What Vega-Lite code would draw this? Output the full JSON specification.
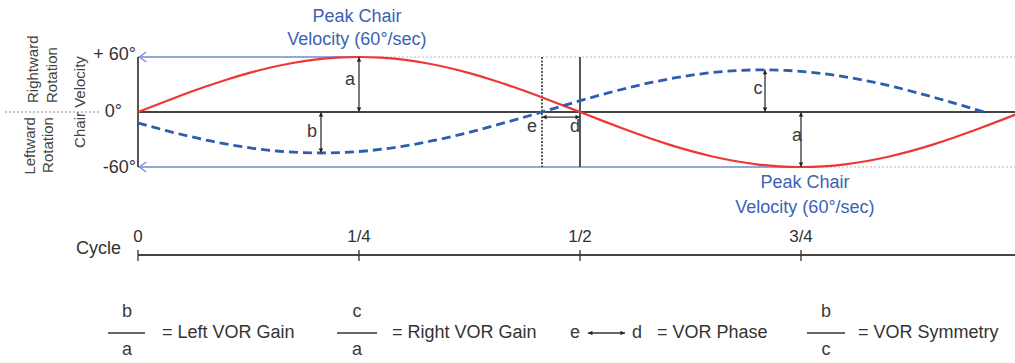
{
  "$schema": "https://vega.github.io/schema/vega-lite/v6.json",
  "width": 1015,
  "height": 363,
  "autosize": "none",
  "padding": 0,
  "config": {"view": {"stroke": null}, "font": "Liberation Sans"},
  "encoding": {
    "x": {"field": "x", "type": "quantitative", "scale": {"domain": [-0.1561, 0.9921], "nice": false, "zero": false}, "axis": null},
    "y": {"field": "y", "type": "quantitative", "scale": {"domain": [-273.8, 122.2], "nice": false, "zero": false}, "axis": null}
  },
  "layer": [
    {
      "data": {"values": [
        {"x": 0, "x2": 0.9921, "y": 60, "y2": 60},
        {"x": 0, "x2": 0.9921, "y": -60, "y2": -60}
      ]},
      "mark": {"type": "rule", "color": "#b8b8b8", "strokeWidth": 1.2, "strokeDash": [2, 2]},
      "encoding": {"x2": {"field": "x2"}, "y2": {"field": "y2"}}
    },
    {
      "data": {"values": [
        {"x": -0.1505, "x2": -0.043, "y": 0, "y2": 0}
      ]},
      "mark": {"type": "rule", "color": "#888888", "strokeWidth": 1.2, "strokeDash": [2, 2]},
      "encoding": {"x2": {"field": "x2"}, "y2": {"field": "y2"}}
    },
    {
      "data": {"values": [
        {"x": 0, "x2": 0.25, "y": 60, "y2": 60},
        {"x": 0, "x2": 0.75, "y": -60, "y2": -60}
      ]},
      "mark": {"type": "rule", "color": "#7393d2", "strokeWidth": 1.6},
      "encoding": {"x2": {"field": "x2"}, "y2": {"field": "y2"}}
    },
    {
      "data": {"values": [
        {"x": 0.0055, "y": 60},
        {"x": 0.0055, "y": -60}
      ]},
      "mark": {"type": "point", "shape": "M 0.7 -1 L -0.7 0 L 0.7 1", "filled": false, "stroke": "#7393d2", "strokeWidth": 1.4, "size": 100, "opacity": 1}
    },
    {
      "data": {"values": [
        {"x": 0.457, "x2": 0.457, "y": 60, "y2": -60}
      ]},
      "mark": {"type": "rule", "color": "#333333", "strokeWidth": 1.6, "strokeDash": [2, 1.5]},
      "encoding": {"x2": {"field": "x2"}, "y2": {"field": "y2"}}
    },
    {
      "data": {"values": [
        {"x": 0, "x2": 0.9921, "y": 0, "y2": 0},
        {"x": 0, "x2": 0, "y": 60, "y2": -60},
        {"x": 0.5, "x2": 0.5, "y": 60, "y2": -60},
        {"x": 0, "x2": 0.9921, "y": -156, "y2": -156}
      ]},
      "mark": {"type": "rule", "color": "#444444", "strokeWidth": 1.8},
      "encoding": {"x2": {"field": "x2"}, "y2": {"field": "y2"}}
    },
    {
      "data": {"values": [
        {"t": 0, "v": 0}, {"t": 0.025, "v": 9.39}, {"t": 0.05, "v": 18.54}, {"t": 0.075, "v": 27.24},
        {"t": 0.1, "v": 35.27}, {"t": 0.125, "v": 42.43}, {"t": 0.15, "v": 48.54}, {"t": 0.175, "v": 53.46},
        {"t": 0.2, "v": 57.06}, {"t": 0.225, "v": 59.26}, {"t": 0.25, "v": 60}, {"t": 0.275, "v": 59.26},
        {"t": 0.3, "v": 57.06}, {"t": 0.325, "v": 53.46}, {"t": 0.35, "v": 48.54}, {"t": 0.375, "v": 42.43},
        {"t": 0.4, "v": 35.27}, {"t": 0.425, "v": 27.24}, {"t": 0.45, "v": 18.54}, {"t": 0.475, "v": 9.39},
        {"t": 0.5, "v": 0}, {"t": 0.525, "v": -9.39}, {"t": 0.55, "v": -18.54}, {"t": 0.575, "v": -27.24},
        {"t": 0.6, "v": -35.27}, {"t": 0.625, "v": -42.43}, {"t": 0.65, "v": -48.54}, {"t": 0.675, "v": -53.46},
        {"t": 0.7, "v": -57.06}, {"t": 0.725, "v": -59.26}, {"t": 0.75, "v": -60}, {"t": 0.775, "v": -59.26},
        {"t": 0.8, "v": -57.06}, {"t": 0.825, "v": -53.46}, {"t": 0.85, "v": -48.54}, {"t": 0.875, "v": -42.43},
        {"t": 0.9, "v": -35.27}, {"t": 0.925, "v": -27.24}, {"t": 0.95, "v": -18.54}, {"t": 0.975, "v": -9.39},
        {"t": 1, "v": 0}
      ]},
      "mark": {"type": "line", "color": "#ee3636", "strokeWidth": 2.2, "interpolate": "monotone", "clip": true},
      "encoding": {
        "x": {"field": "t", "type": "quantitative"},
        "y": {"field": "v", "type": "quantitative"}
      }
    },
    {
      "data": {"values": [
        {"t": 0, "v": -11.93}, {"t": 0.007, "v": -13.81}, {"t": 0.032, "v": -20.29}, {"t": 0.057, "v": -26.27},
        {"t": 0.082, "v": -31.61}, {"t": 0.107, "v": -36.16}, {"t": 0.132, "v": -39.83}, {"t": 0.157, "v": -42.51},
        {"t": 0.182, "v": -44.15}, {"t": 0.207, "v": -44.7}, {"t": 0.232, "v": -44.15}, {"t": 0.257, "v": -42.51},
        {"t": 0.282, "v": -39.83}, {"t": 0.307, "v": -36.16}, {"t": 0.332, "v": -31.61}, {"t": 0.357, "v": -26.27},
        {"t": 0.382, "v": -20.29}, {"t": 0.407, "v": -13.81}, {"t": 0.432, "v": -6.99}, {"t": 0.457, "v": 0},
        {"t": 0.482, "v": 7.2}, {"t": 0.507, "v": 14.21}, {"t": 0.532, "v": 20.88}, {"t": 0.557, "v": 27.04},
        {"t": 0.582, "v": 32.53}, {"t": 0.607, "v": 37.21}, {"t": 0.632, "v": 40.99}, {"t": 0.657, "v": 43.75},
        {"t": 0.682, "v": 45.43}, {"t": 0.707, "v": 46}, {"t": 0.732, "v": 45.43}, {"t": 0.757, "v": 43.75},
        {"t": 0.782, "v": 40.99}, {"t": 0.807, "v": 37.21}, {"t": 0.832, "v": 32.53}, {"t": 0.857, "v": 27.04},
        {"t": 0.882, "v": 20.88}, {"t": 0.907, "v": 14.21}, {"t": 0.932, "v": 7.2}, {"t": 0.957, "v": 0}
      ]},
      "mark": {"type": "line", "color": "#2d5db0", "strokeWidth": 2.8, "strokeDash": [9, 5], "interpolate": "monotone"},
      "encoding": {
        "x": {"field": "t", "type": "quantitative"},
        "y": {"field": "v", "type": "quantitative"}
      }
    },
    {
      "data": {"values": [
        {"x": 0.25, "x2": 0.25, "y": 0, "y2": 60},
        {"x": 0.207, "x2": 0.207, "y": 0, "y2": -44.7},
        {"x": 0.7093, "x2": 0.7093, "y": 0, "y2": 46},
        {"x": 0.75, "x2": 0.75, "y": 0, "y2": -60},
        {"x": 0.457, "x2": 0.5, "y": -5.5, "y2": -5.5},
        {"x": 0, "x2": 0, "y": -150.5, "y2": -162.5},
        {"x": 0.25, "x2": 0.25, "y": -150.5, "y2": -162.5},
        {"x": 0.5, "x2": 0.5, "y": -150.5, "y2": -162.5},
        {"x": 0.75, "x2": 0.75, "y": -150.5, "y2": -162.5},
        {"x": -0.0339, "x2": 0.0079, "y": -241.1, "y2": -241.1},
        {"x": 0.2251, "x2": 0.2704, "y": -241.1, "y2": -241.1},
        {"x": 0.7568, "x2": 0.7998, "y": -241.1, "y2": -241.1},
        {"x": 0.509, "x2": 0.5509, "y": -241.1, "y2": -241.1}
      ]},
      "mark": {"type": "rule", "color": "#333333", "strokeWidth": 1.3},
      "encoding": {"x2": {"field": "x2"}, "y2": {"field": "y2"}}
    },
    {
      "data": {"values": [
        {"x": 0.25, "y": 57.3, "dir": "up"}, {"x": 0.25, "y": 2.7, "dir": "down"},
        {"x": 0.207, "y": -2.7, "dir": "up"}, {"x": 0.207, "y": -42.0, "dir": "down"},
        {"x": 0.7093, "y": 43.3, "dir": "up"}, {"x": 0.7093, "y": 2.7, "dir": "down"},
        {"x": 0.75, "y": -2.7, "dir": "up"}, {"x": 0.75, "y": -57.3, "dir": "down"},
        {"x": 0.4598, "y": -5.5, "dir": "left"}, {"x": 0.4972, "y": -5.5, "dir": "right"},
        {"x": 0.5118, "y": -241.1, "dir": "left"}, {"x": 0.5481, "y": -241.1, "dir": "right"}
      ]},
      "mark": {"type": "point", "filled": true, "color": "#222222", "size": 22, "opacity": 1},
      "encoding": {
        "shape": {"field": "dir", "type": "nominal", "legend": null,
          "scale": {"domain": ["up", "down", "left", "right"], "range": ["triangle-up", "triangle-down", "triangle-left", "triangle-right"]}}
      }
    },
    {
      "data": {"values": [
        {"x": 0.2477, "y": 103.6, "text": "Peak Chair"},
        {"x": 0.2477, "y": 78.5, "text": "Velocity (60°/sec)"},
        {"x": 0.7545, "y": -77.5, "text": "Peak Chair"},
        {"x": 0.7545, "y": -104.7, "text": "Velocity (60°/sec)"}
      ]},
      "mark": {"type": "text", "color": "#3d62b3", "fontSize": 18, "align": "center", "baseline": "middle"},
      "encoding": {"text": {"field": "text"}}
    },
    {
      "data": {"values": [
        {"x": 0.2398, "y": 34.9, "text": "a"},
        {"x": 0.1968, "y": -21.8, "text": "b"},
        {"x": 0.7014, "y": 25.1, "text": "c"},
        {"x": 0.7455, "y": -26.2, "text": "a"},
        {"x": 0.4457, "y": -16.4, "text": "e"},
        {"x": 0.4943, "y": -16.4, "text": "d"},
        {"x": -0.0124, "y": -218.2, "text": "b"},
        {"x": -0.0124, "y": -259.6, "text": "a"},
        {"x": 0.2477, "y": -218.2, "text": "c"},
        {"x": 0.2477, "y": -259.6, "text": "a"},
        {"x": 0.4943, "y": -241.1, "text": "e"},
        {"x": 0.5645, "y": -241.1, "text": "d"},
        {"x": 0.7783, "y": -218.2, "text": "b"},
        {"x": 0.7783, "y": -259.6, "text": "c"}
      ]},
      "mark": {"type": "text", "color": "#3a3a3a", "fontSize": 18, "align": "center", "baseline": "middle"},
      "encoding": {"text": {"field": "text"}}
    },
    {
      "data": {"values": [
        {"x": 0, "y": -136.4, "text": "0"},
        {"x": 0.25, "y": -136.4, "text": "1/4"},
        {"x": 0.5, "y": -136.4, "text": "1/2"},
        {"x": 0.75, "y": -136.4, "text": "3/4"}
      ]},
      "mark": {"type": "text", "color": "#333333", "fontSize": 17, "align": "center", "baseline": "middle"},
      "encoding": {"text": {"field": "text"}}
    },
    {
      "data": {"values": [
        {"x": 0.0271, "y": -241.1, "text": "= Left VOR Gain"},
        {"x": 0.2873, "y": -241.1, "text": "= Right VOR Gain"},
        {"x": 0.5871, "y": -241.1, "text": "= VOR Phase"},
        {"x": 0.8145, "y": -241.1, "text": "= VOR Symmetry"}
      ]},
      "mark": {"type": "text", "color": "#333333", "fontSize": 18, "align": "left", "baseline": "middle"},
      "encoding": {"text": {"field": "text"}}
    },
    {
      "data": {"values": [
        {"x": -0.0023, "y": 62.2, "text": "+ 60°"},
        {"x": -0.0181, "y": 0, "text": "0°"},
        {"x": -0.0023, "y": -61.1, "text": "-60°"},
        {"x": -0.0192, "y": -149.5, "text": "Cycle"}
      ]},
      "mark": {"type": "text", "color": "#333333", "fontSize": 18, "align": "right", "baseline": "middle"},
      "encoding": {"text": {"field": "text"}}
    },
    {
      "data": {"values": [
        {"x": -0.1188, "y": 9.8, "text": "Rightward"},
        {"x": -0.0973, "y": 9.8, "text": "Rotation"}
      ]},
      "mark": {"type": "text", "color": "#444444", "fontSize": 15, "angle": 270, "align": "left", "baseline": "middle"},
      "encoding": {"text": {"field": "text"}}
    },
    {
      "data": {"values": [
        {"x": -0.1222, "y": -5.5, "text": "Leftward"},
        {"x": -0.1018, "y": -5.5, "text": "Rotation"}
      ]},
      "mark": {"type": "text", "color": "#444444", "fontSize": 15, "angle": 270, "align": "right", "baseline": "middle"},
      "encoding": {"text": {"field": "text"}}
    },
    {
      "data": {"values": [
        {"x": -0.0656, "y": 10.9, "text": "Chair Velocity"}
      ]},
      "mark": {"type": "text", "color": "#444444", "fontSize": 15, "angle": 270, "align": "center", "baseline": "middle"},
      "encoding": {"text": {"field": "text"}}
    }
  ]
}
